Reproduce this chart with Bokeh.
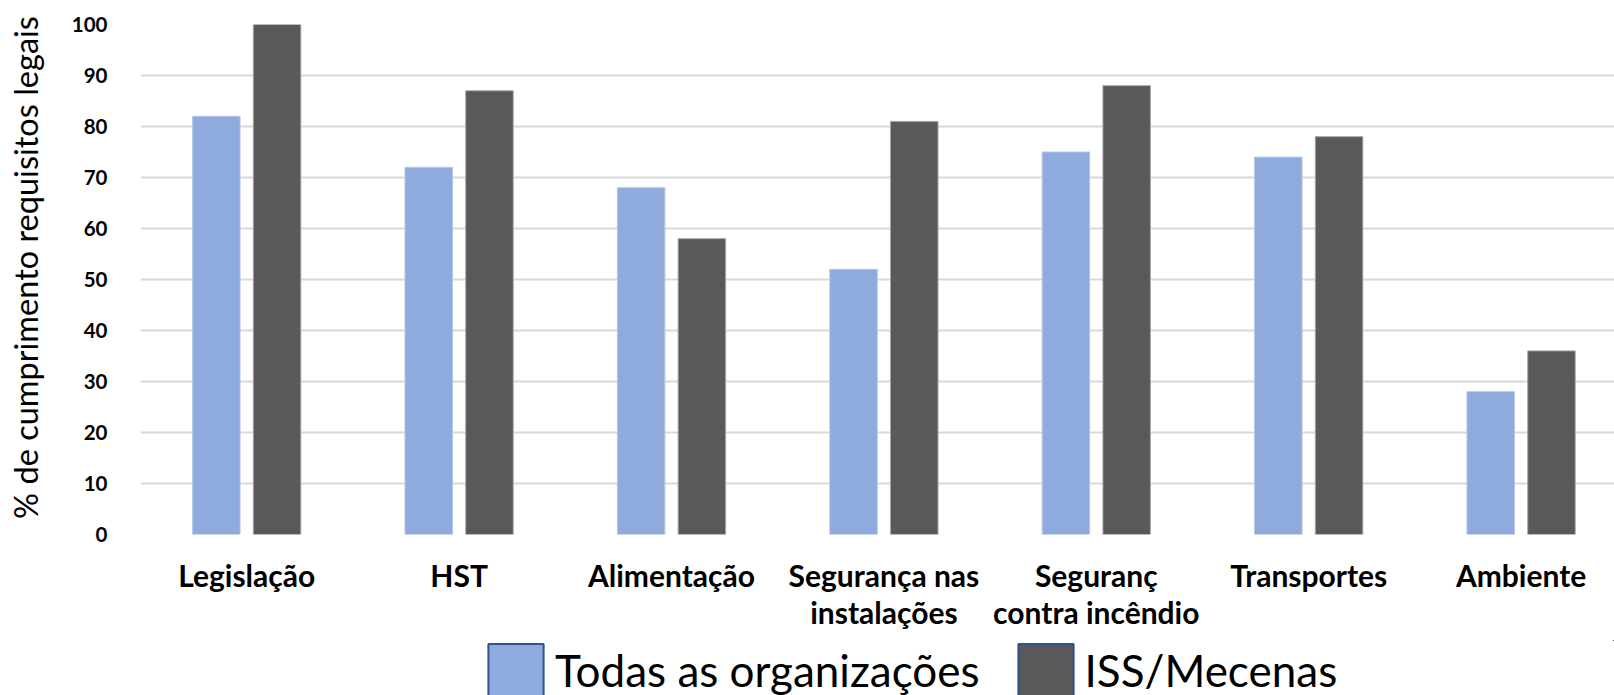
import math
from bokeh.plotting import figure
from bokeh.layouts import row, column
from bokeh.models import ColumnDataSource, FixedTicker, Legend, LegendItem, Label
from bokeh.transform import dodge
from bokeh.embed import file_html
from bokeh.resources import INLINE

categories = ["Legislação", "HST", "Alimentação", "Segurança nas\ninstalações",
              "Seguranç\ncontra incêndio", "Transportes", "Ambiente"]
todas = [82, 72, 68, 52, 75, 74, 28]
iss = [100, 87, 58, 81, 88, 78, 36]
series_names = ["Todas as organizações", "ISS/Mecenas"]
y_ticks = [0, 10, 20, 30, 40, 50, 60, 70, 80, 90, 100]
y_title = "% de cumprimento requisitos legais"

LIGHT = "#8FAADC"
DARK = "#595959"
FONT = "Lato"

TOTAL_W, TOTAL_H = 1614, 695
TITLE_W = 56
MAIN_W = TOTAL_W - TITLE_W
MAIN_H = 640
LEG_H = TOTAL_H - MAIN_H
FRAME_LEFT = 140  # page x of plot frame

centers = [i + 0.5 for i in range(len(categories))]
src = ColumnDataSource(dict(x=centers, todas=todas, iss=iss))

# ---------------- main chart ----------------
left_border = FRAME_LEFT - TITLE_W
cat_px = 212.4
p = figure(width=MAIN_W, height=MAIN_H, output_backend="svg", toolbar_location=None,
           x_range=(0, (MAIN_W - left_border) / cat_px), y_range=(0, 100),
           min_border_left=left_border, min_border_right=0,
           min_border_top=24, min_border_bottom=MAIN_H - 534)
p.outline_line_color = None

off = 0.143
bw = 0.2236
p.vbar(x=dodge("x", -off), top="todas", width=bw, source=src,
       fill_color=LIGHT, line_color="#B4C7E7", line_width=1)
p.vbar(x=dodge("x", off), top="iss", width=bw, source=src,
       fill_color=DARK, line_color="#A6A6A6", line_width=1)

p.xaxis.ticker = FixedTicker(ticks=centers)
p.xaxis.major_label_overrides = {c: lab for c, lab in zip(centers, categories)}
p.xaxis.major_label_text_font = FONT
p.xaxis.major_label_text_font_style = "bold"
p.xaxis.major_label_text_font_size = "30px"
p.xaxis.major_label_text_line_height = 1.03
p.xaxis.major_label_text_color = "black"
p.xaxis.major_label_text_align = "center"
p.xaxis.major_label_standoff = 16
p.xaxis.axis_line_color = None
p.xaxis.major_tick_line_color = None
p.xaxis.minor_tick_line_color = None

p.yaxis.ticker = FixedTicker(ticks=y_ticks)
p.yaxis.major_label_text_font = FONT
p.yaxis.major_label_text_font_style = "bold"
p.yaxis.major_label_text_font_size = "20.5px"
p.yaxis.major_label_text_color = "black"
p.yaxis.major_label_standoff = 27
p.yaxis.axis_line_color = None
p.yaxis.major_tick_line_color = None
p.yaxis.minor_tick_line_color = None

p.xgrid.grid_line_color = None
p.ygrid.ticker = FixedTicker(ticks=y_ticks)
p.ygrid.grid_line_color = "#D9D9D9"
p.ygrid.grid_line_width = 2

# ---------------- y title strip ----------------
t = figure(width=TITLE_W, height=TOTAL_H, output_backend="svg", toolbar_location=None,
           x_range=(0, TITLE_W), y_range=(0, TOTAL_H),
           x_axis_type=None, y_axis_type=None,
           min_border=0, min_border_left=0, min_border_right=0,
           min_border_top=0, min_border_bottom=0)
t.outline_line_color = None
t.grid.grid_line_color = None
t.add_layout(Label(x=25, y=TOTAL_H - 267, text=y_title, angle=math.pi / 2,
                   text_align="center", text_baseline="middle",
                   text_font=FONT, text_font_size="32.5px", text_color="black"))

# ---------------- legend strip ----------------
# The legend's own renderers use the chart data but lie outside this strip's
# visible ranges, so only their legend swatches show.
lg = figure(width=MAIN_W, height=LEG_H, output_backend="svg", toolbar_location=None,
            x_range=(-10, -9), y_range=(-10, -9),
            x_axis_type=None, y_axis_type=None,
            min_border=0, min_border_left=0, min_border_right=0,
            min_border_top=0, min_border_bottom=0)
lg.outline_line_color = None
lg.grid.grid_line_color = None
r1 = lg.vbar(x="x", top="todas", width=bw, source=src,
             fill_color=LIGHT, line_color="#2F528F", line_width=2)
r2 = lg.vbar(x="x", top="iss", width=bw, source=src,
             fill_color=DARK, line_color="#2F528F", line_width=2)
# swatches are drawn inset by 10% of the glyph box on each side
gw, gh = 69, 66
legend = Legend(items=[LegendItem(label=series_names[0], renderers=[r1]),
                       LegendItem(label=series_names[1], renderers=[r2])],
                orientation="horizontal", location=(341, -8),
                glyph_width=gw, glyph_height=gh, label_standoff=5,
                spacing=31, padding=0, margin=0,
                border_line_color=None, background_fill_alpha=0,
                label_text_font=FONT, label_text_font_size="44px",
                label_text_color="black")
lg.add_layout(legend, "center")

layout = row(t, column(p, lg, spacing=0), spacing=0)
open("out.html", "w").write(file_html(layout, INLINE))
